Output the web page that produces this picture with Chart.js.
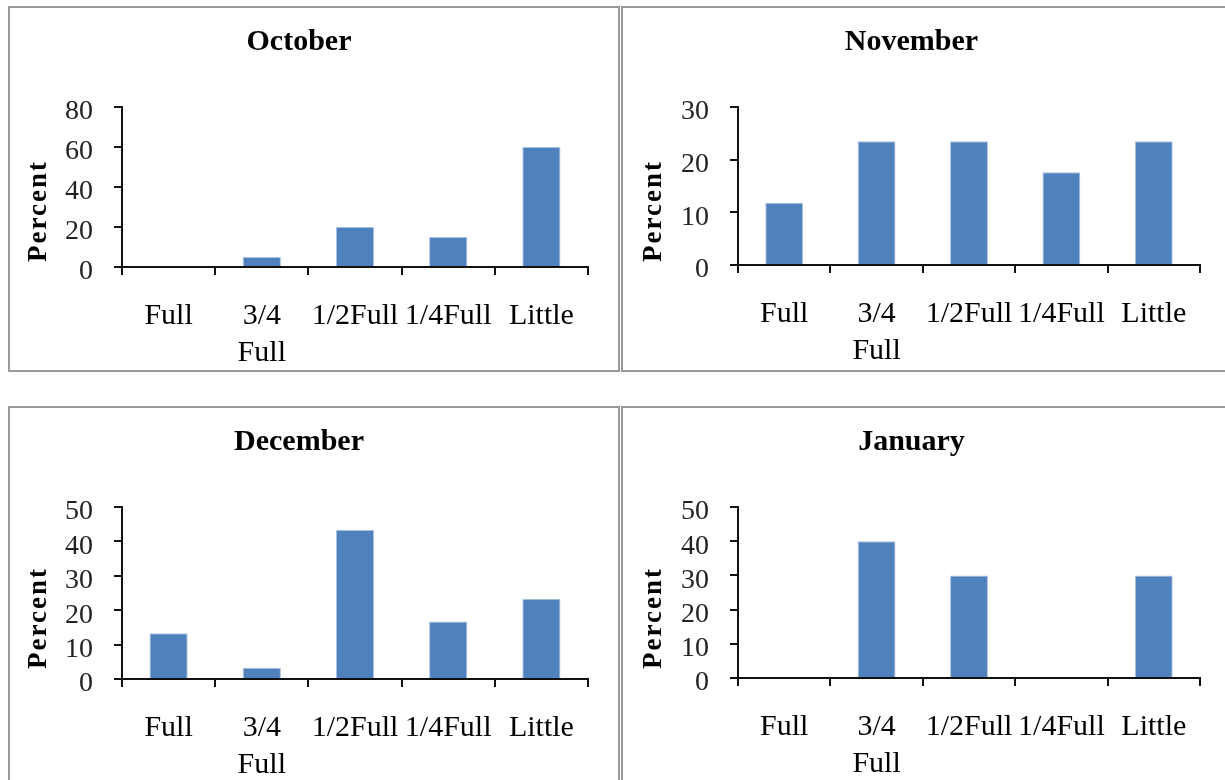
<!DOCTYPE html>
<html>
<head>
<meta charset="utf-8">
<script src="https://cdn.jsdelivr.net/npm/chart.js@4.4.1/dist/chart.umd.min.js"></script>
<style>
  html, body { margin: 0; padding: 0; background: #fff; width: 1225px; height: 780px; overflow: hidden; position: relative; }
  .panel { position: absolute; box-sizing: border-box; border: 2px solid #999; background: #fff; }
  .panel canvas { display: block; }
</style>
</head>
<body>
<div class="panel" style="left:8px;top:6px;width:612px;height:366px"><canvas id="octChart" width="608" height="362"></canvas></div>
<div class="panel" style="left:621px;top:6px;width:612px;height:366px"><canvas id="novChart" width="608" height="362"></canvas></div>
<div class="panel" style="left:8px;top:406px;width:612px;height:380px"><canvas id="decChart" width="608" height="376"></canvas></div>
<div class="panel" style="left:621px;top:406px;width:612px;height:380px"><canvas id="janChart" width="608" height="376"></canvas></div>
<script>
// Fill level categories (multi-line label for "3/4 Full")
const categories = [['Full'], ['3/4', 'Full'], ['1/2Full'], ['1/4Full'], ['Little']];

// Percent of responses per month
const octoberPercent  = [0, 5, 20, 15, 60];
const novemberPercent = [11.8, 23.5, 23.5, 17.6, 23.5];
const decemberPercent = [13.3, 3.3, 43.3, 16.7, 23.3];
const januaryPercent  = [0, 40, 30, 0, 30];

// Value-axis tick labels per month
const octoberTicks  = [0, 20, 40, 60, 80];
const novemberTicks = [0, 10, 20, 30];
const decemberTicks = [0, 10, 20, 30, 40, 50];
const januaryTicks  = [0, 10, 20, 30, 40, 50];

const SERIF = '"Liberation Serif", "Times New Roman", serif';

// Rotated, slightly spaced "Percent" label beside the value axis
const axisLabel = {
  id: 'axisLabel',
  afterDraw(chart, args, opts) {
    const ctx = chart.ctx;
    ctx.save();
    ctx.translate(opts.x, opts.y);
    ctx.rotate(-Math.PI / 2);
    ctx.font = 'bold 27px ' + SERIF;
    if ('letterSpacing' in ctx) ctx.letterSpacing = '2px';
    ctx.fillStyle = '#000';
    ctx.textAlign = 'center';
    ctx.textBaseline = 'middle';
    ctx.fillText(opts.text, 0, 0);
    ctx.restore();
  }
};

function monthChart(id, month, values, ticks, g) {
  return new Chart(document.getElementById(id), {
    type: 'bar',
    data: {
      labels: categories,
      datasets: [{
        data: values,
        backgroundColor: '#4f81bd',
        borderColor: '#a9c1e0',
        borderWidth: 1,
        barPercentage: 0.41,
        categoryPercentage: 1
      }]
    },
    options: {
      responsive: false,
      animation: false,
      layout: { padding: { left: 0, right: g.right, top: 0, bottom: 0 } },
      plugins: {
        legend: { display: false },
        tooltip: { enabled: false },
        title: {
          display: true,
          text: month,
          color: '#000',
          font: { family: SERIF, size: 30, weight: 'bold', lineHeight: 1.2 },
          padding: { top: 16, bottom: g.top - 16 - 36 }
        },
        axisLabel: { text: 'Percent', x: g.labelX, y: g.labelY }
      },
      scales: {
        x: {
          afterFit: s => { s.height = g.xHeight; },
          border: { display: true, color: '#111', width: 2 },
          grid: { display: true, offset: true, drawOnChartArea: false, drawTicks: true, tickLength: 8, color: '#111', lineWidth: 2 },
          ticks: {
            color: '#000',
            padding: 23,
            maxRotation: 0,
            autoSkip: false,
            font: { family: SERIF, size: 30, lineHeight: 1.23 }
          }
        },
        y: {
          min: ticks[0],
          max: ticks[ticks.length - 1],
          afterFit: s => { s.width = g.yWidth; },
          afterBuildTicks: s => { s.ticks = ticks.map(v => ({ value: v })); },
          border: { display: true, color: '#111', width: 2 },
          grid: { display: true, drawOnChartArea: false, drawTicks: true, tickLength: 8, color: '#111', lineWidth: 2 },
          ticks: {
            color: '#222',
            padding: 21,
            labelOffset: 5,
            autoSkip: false,
            font: { family: SERIF, size: 28, lineHeight: 1 }
          }
        }
      }
    },
    plugins: [axisLabel]
  });
}

monthChart('octChart', 'October',  octoberPercent,  octoberTicks,  { yWidth: 112, right: 30, top: 99, xHeight: 103, labelX: 29, labelY: 203 });
monthChart('novChart', 'November', novemberPercent, novemberTicks, { yWidth: 115, right: 31, top: 99, xHeight: 105, labelX: 31, labelY: 203 });
monthChart('decChart', 'December', decemberPercent, decemberTicks, { yWidth: 112, right: 30, top: 99, xHeight: 105, labelX: 29, labelY: 210 });
monthChart('janChart', 'January',  januaryPercent,  januaryTicks,  { yWidth: 115, right: 31, top: 99, xHeight: 106, labelX: 31, labelY: 210 });
</script>
</body>
</html>
